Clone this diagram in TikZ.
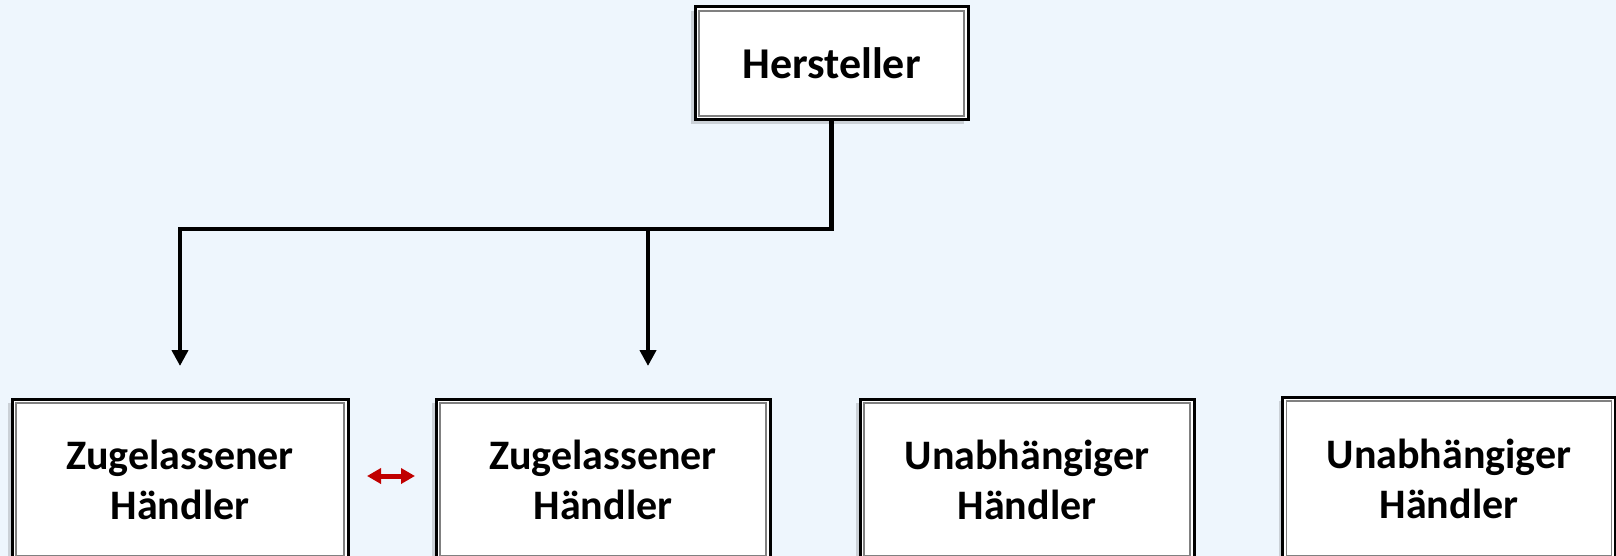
\documentclass[tikz,border=0pt]{standalone}
\usepackage{fontspec}
\setmainfont{Carlito}
\usetikzlibrary{arrows.meta,shadows}
\definecolor{bgblue}{RGB}{238,246,253}
\definecolor{darkred}{RGB}{192,0,0}
\definecolor{innergray}{RGB}{128,128,128}
\begin{document}
\begin{tikzpicture}[x=1pt,y=-1pt,
  box/.style={draw=black, line width=3pt, fill=white, outer sep=0pt, inner sep=0pt,
    align=center, font=\fontsize{42}{50}\selectfont\bfseries,
    drop shadow={shadow xshift=-4pt, shadow yshift=-4pt, opacity=0.25, fill=black!60}},
  inner/.style={draw=innergray, line width=1.2pt},
  conn/.style={draw=black, line width=4.8pt, line join=miter},
  tip/.style={-{Triangle[length=16pt,width=16pt]}},
  redarrow/.style={draw=darkred, line width=5pt, {Triangle[length=14pt,width=15pt]}-{Triangle[length=14pt,width=15pt]}}
]
\useasboundingbox (0,0) rectangle (1616,556);
\clip (0,0) rectangle (1616,556);
\fill[bgblue] (0,0) rectangle (1616,556);

\node[box, font=\fontsize{44}{50}\selectfont\bfseries, minimum width=273pt, minimum height=113pt] (h) at (831.5,63.5) {Hersteller};
\node[box, minimum width=336pt, minimum height=161pt] (b1) at (180,479.5) {Zugelassener\\Händler};
\node[box, minimum width=334pt, minimum height=161pt] (b2) at (603,479.5) {Zugelassener\\Händler};
\node[box, minimum width=334pt, minimum height=161pt] (b3) at (1027,479.5) {Unabhängiger\\Händler};
\node[box, minimum width=333pt, minimum height=163pt] (b4) at (1449,478.5) {Unabhängiger\\Händler};

\foreach \n in {h,b1,b2,b3,b4}{
  \draw[inner] ([shift={(4,4)}]\n.north west) rectangle ([shift={(-4,-4)}]\n.south east);
}

\coordinate (bend) at (180,229);
\coordinate (e1) at (180,366);
\coordinate (e2) at (648,366);
\draw[conn, tip] (h.south) |- (bend) -- (e1);
\draw[conn, tip] (e2 |- bend) -- (e2);

\coordinate (r1) at (367,476);
\coordinate (r2) at (415,476);
\draw[redarrow] (r1) -- (r2);
\end{tikzpicture}
\end{document}
